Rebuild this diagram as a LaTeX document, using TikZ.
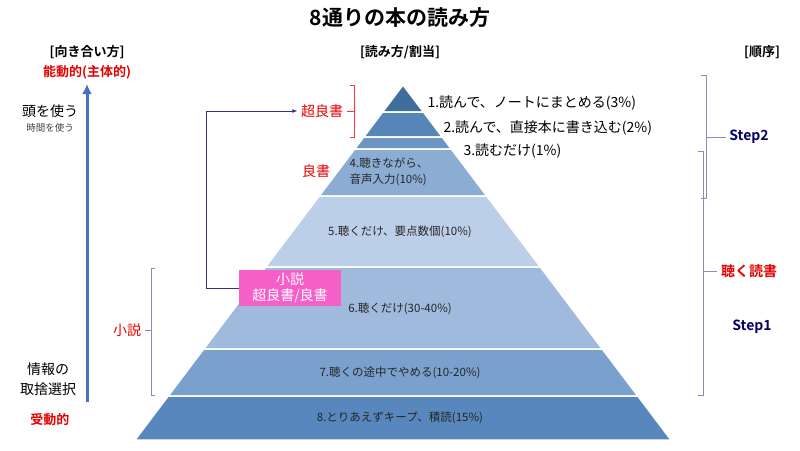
\documentclass[tikz,border=0pt]{standalone}
\usepackage{fontspec}
\usetikzlibrary{arrows.meta}
\setmainfont{Noto Sans CJK JP}[BoldFont={Noto Sans CJK JP Bold}]
\begin{document}
\begin{tikzpicture}[x=1pt,y=-1pt,
  lbl/.style={font=\fontsize{11.5}{14}\selectfont,text=black!85},
  big/.style={font=\fontsize{14}{16}\selectfont},
  hd/.style={font=\bfseries\fontsize{13}{15}\selectfont},
  red/.style={text=red!90!black},
  brk/.style={draw=blue!30!gray!70,line width=0.8pt},
  stp/.style={font=\bfseries\fontsize{14}{16}\selectfont,text=blue!40!black}]
\useasboundingbox (0,0) rectangle (800,450);
\def\ax{403}\def\ay{85}\def\s{0.755}
\foreach \ya/\yb/\c in {85/112/3f6d9c,112/137/5686b8,137/149/6b96c4,149/196/8badd4,196/267/bccfe8,267/349/9fbadc,349/396/7aa1cd,396/440/5787bc}{
  \definecolor{lc}{HTML}{\c}
  \fill[lc,draw=white,line width=1.5pt] ({\ax-\s*(\ya-\ay)},\ya) -- ({\ax+\s*(\ya-\ay)},\ya) -- ({\ax+\s*(\yb-\ay)},\yb) -- ({\ax-\s*(\yb-\ay)},\yb) -- cycle;
}
\node[font=\bfseries\fontsize{21}{24}\selectfont] (title) at (400,18) {8通りの本の読み方};
\node[hd] (h1) at (87,52) {[向き合い方]};
\node[hd] (h2) at (400,52) {[読み方/割当]};
\node[hd] (h3) at (762,52) {[順序]};
\node[hd,red] (act) at (87,72) {能動的(主体的)};
\node[hd,red] (pas) at (50,420) {受動的};
\coordinate (abot) at (87,402);
\coordinate (atop) at (87,84);
\definecolor{arr}{HTML}{4472C4}
\draw[-{Latex[length=10pt,width=10pt]},line width=3pt,draw=arr] (abot) -- (atop);
\node[big] (t1) at (50,111) {頭を使う};
\node[font=\fontsize{9.5}{11}\selectfont,text=black!75] (t2) at (50,128) {時間を使う};
\node[font=\fontsize{14}{20}\selectfont,align=center] (t3) at (48,379) {情報の\\取捨選択};
% labels
\node[big,anchor=west] (l1) at (424,103) {1.読んで、ノートにまとめる(3\%)};
\node[big,anchor=west] (l2) at (440,128) {2.読んで、直接本に書き込む(2\%)};
\node[big,anchor=west] (l3) at (460,151) {3.読むだけ(1\%)};
\node[lbl,align=left] (l4) at (389,172) {4.聴きながら、\\[2pt]音声入力(10\%)};
\node[lbl] (l5) at (400,232) {5.聴くだけ、要点数個(10\%)};
\node[lbl] (l6) at (400,309) {6.聴くだけ(30-40\%)};
\node[lbl] (l7) at (400,373) {7.聴くの途中でやめる(10-20\%)};
\node[lbl] (l8) at (400,418) {8.とりあえずキープ、積読(15\%)};
\definecolor{pk}{HTML}{F55FC8}
\node[fill=pk,text=white,big,align=center,inner sep=1pt,minimum width=102pt,minimum height=36pt] (pink) at (290,288) {小説\\超良書/良書};
\node[big,red] (sr) at (322,111) {超良書};
\node[big,red] (ry) at (316,171) {良書};
\node[big,red] (sx) at (127,330) {小説};
\node[font=\bfseries\fontsize{14}{16}\selectfont,red] (kd) at (749,271) {聴く読書};
\node[stp] (s2) at (749,137) {Step2};
\node[stp] (s1) at (752,327) {Step1};
% connector
\coordinate (c1) at (206,288);
\coordinate (c2) at (206,111);
\draw[draw=blue!40!black!80,line width=0.8pt,-{Latex[length=5pt]}] (pink.west) -- (c1) -- (c2) -- (sr.west);
% brackets
\draw[draw=red!80,line width=0.8pt] (350,85) -- (354,85) -- (354,137) -- (350,137) (354,111) -- (sr.east);
\draw[brk] (155,268) -- (151,268) -- (151,395) -- (155,395) (151,330) -- (sx.east);
\draw[brk] (701,75) -- (706,75) -- (706,198) -- (701,198) (706,137) -- (s2.west);
\draw[brk] (698,151) -- (703,151) -- (703,395) -- (698,395) (703,271) -- (kd.west);
\end{tikzpicture}
\end{document}
